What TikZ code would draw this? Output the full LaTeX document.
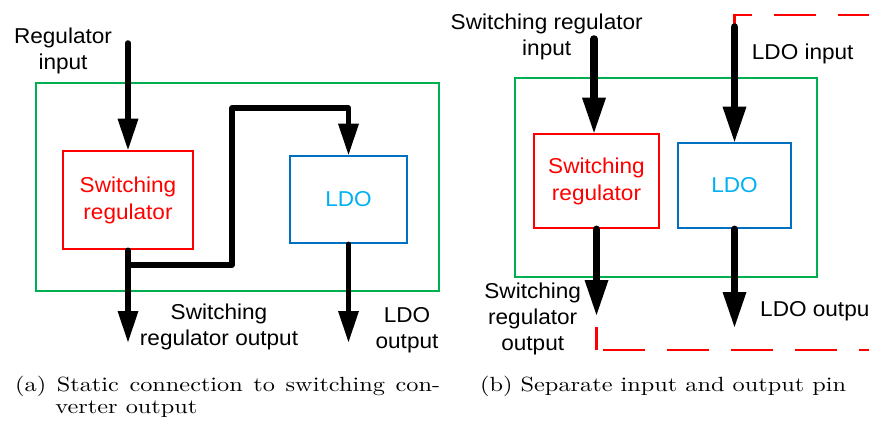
\documentclass[tikz,border=0pt]{standalone}
\usepackage{fontspec}
\newfontfamily\arialfont{Liberation Sans}[FakeStretch=1.05]
\newfontfamily\lmten{lmroman10-regular}[Extension=.otf]
\usepackage{graphicx}
\usetikzlibrary{arrows.meta}
\definecolor{gbox}{RGB}{0,176,80}
\definecolor{rbox}{RGB}{255,0,0}
\definecolor{bbox}{RGB}{0,112,192}
\definecolor{ldotxt}{RGB}{0,176,240}
\begin{document}
\begin{tikzpicture}[x=1pt,y=-1pt,
  lbl/.style={font=\arialfont\fontsize{21.5}{26}\selectfont, align=center, inner sep=0pt},
  gframe/.style={draw=gbox, line width=2.6pt},
  swbox/.style={draw=rbox, line width=2.6pt, text=rbox, align=center, font=\arialfont\fontsize{21.5}{27}\selectfont},
  ldobox/.style={draw=bbox, line width=2.6pt, text=ldotxt, align=center, font=\arialfont\fontsize{21.5}{27}\selectfont},
  arrL/.style={line width=5.5pt, line cap=round, line join=round, -{Triangle[length=31pt,width=21pt,line width=0pt]}},
  arrR/.style={line width=7.5pt, line cap=round, line join=round, -{Triangle[length=35pt,width=24pt,line width=0pt]}},
  pinline/.style={draw=rbox, line width=2.6pt, dash pattern=on 42pt off 22pt},
  capfont/.style={font=\lmten\fontsize{20.5}{22.5}\selectfont, inner sep=0pt}]
\useasboundingbox (0,0) rectangle (869,425);
\clip (0,0) rectangle (869,425);

% ---------- left panel ----------
\node[gframe, minimum width=403pt, minimum height=208pt] (g1) at (237.5,187) {};
\node[swbox, minimum width=130pt, minimum height=98pt] (sw1) at (128,200) {Switching\\regulator};
\node[ldobox, minimum width=117pt, minimum height=87pt] (ldo1) at (348.5,199.5) {LDO};

\coordinate (rin) at (128,43);
\coordinate (swo1) at (128,342);
\coordinate (j1) at (128,265);
\coordinate (lo1) at (348.5,342);
\draw[arrL] (rin) -- (sw1.north);
\draw[arrL] (sw1.south) -- (swo1);
\draw[arrL] (j1) -| (232,108) -| (ldo1.north);
\draw[arrL] (ldo1.south) -- (lo1);

\node[lbl] (lrin) at (63,51) {Regulator\\input};
\node[lbl] (lswo) at (219,326.75) {Switching\\regulator output};
\node[lbl] (lldoo) at (407,330.25) {LDO\\output};

% ---------- right panel ----------
\coordinate (pt0) at (734.5,40);
\coordinate (pt1) at (734.5,15);
\coordinate (pt2) at (890,15);
\draw[pinline] (pt0) -- (pt1) -- (pt2);
\coordinate (pb0) at (596.7,327);
\coordinate (pb1) at (596.7,350);
\coordinate (pb2) at (603,350);
\coordinate (pb3) at (890,350);
\draw[pinline] (pb0) -- (pb1) (pb2) -- (pb3);

\node[gframe, minimum width=302pt, minimum height=199pt] (g2) at (666,177.5) {};
\node[swbox, minimum width=125pt, minimum height=94pt] (sw2) at (596.5,181) {Switching\\regulator};
\node[ldobox, minimum width=113pt, minimum height=85pt] (ldo2) at (734.5,185.5) {LDO};

\coordinate (swin2) at (594,39);
\coordinate (swo2) at (596.5,315);
\coordinate (li2) at (734.5,27);
\coordinate (lo2) at (734.5,327);
\draw[arrR] (swin2) -- (swin2 |- sw2.north);
\draw[arrR] (sw2.south) -- (swo2);
\draw[arrR] (li2) -- (ldo2.north);
\draw[arrR] (ldo2.south) -- (lo2);

\node[lbl] (rswin) at (546.7,36.75) {Switching regulator\\input};
\node[lbl, anchor=west] (rldoin) at (751.7,53.5) {LDO input};
\node[lbl] (rswo) at (532.7,319) {Switching\\regulator\\output};
\node[lbl, anchor=west] (rldoo) at (760,311) {LDO output};

% ---------- captions ----------
\node[capfont, anchor=base west] (capa) at (15,391)
  {\scalebox{1.185}[1]{\parbox[t]{358.6pt}{\lmten\fontsize{20.5}{22.5}\selectfont
   \makebox[358.6pt][s]{(a) Static connection to switching con-}\\
   \hspace*{34pt}verter output}}};
\node[capfont, anchor=base west] (capb) at (480,391)
  {\scalebox{1.185}[1]{(b) Separate input and output pin}};
\end{tikzpicture}
\end{document}
